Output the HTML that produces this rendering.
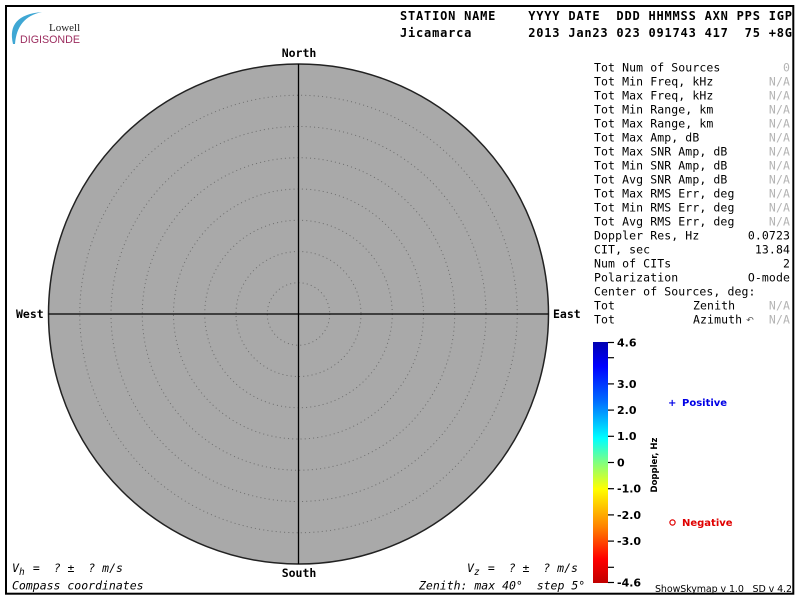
<!DOCTYPE html>
<html>
<head>
<meta charset="utf-8">
<style>
html,body{margin:0;padding:0;background:#fff;}
svg{display:block;}
svg text{white-space:pre;}
.mono{font-family:"DejaVu Sans Mono","Liberation Mono",monospace;}
.sans{font-family:"DejaVu Sans","Liberation Sans",sans-serif;}
</style>
</head>
<body>
<svg width="800" height="600" viewBox="0 0 800 600" xmlns="http://www.w3.org/2000/svg">
  <defs>
    <linearGradient id="cb" x1="0" y1="0" x2="0" y2="1">
      <stop offset="0" stop-color="#0000b0"/>
      <stop offset="0.10" stop-color="#0000ff"/>
      <stop offset="0.25" stop-color="#0070ff"/>
      <stop offset="0.40" stop-color="#00ffff"/>
      <stop offset="0.50" stop-color="#80ff80"/>
      <stop offset="0.61" stop-color="#ffff00"/>
      <stop offset="0.77" stop-color="#ff8000"/>
      <stop offset="0.90" stop-color="#ff0000"/>
      <stop offset="1" stop-color="#c00000"/>
    </linearGradient>
  </defs>
  <rect x="0" y="0" width="800" height="600" fill="#fff"/>
  <!-- frame -->
  <rect x="6" y="6" width="787.3" height="587.7" fill="none" stroke="#000" stroke-width="2"/>

  <!-- logo -->
  <path d="M13,44 Q6,15 42,12 Q17,17 15,44 Z" fill="#3fa7d4"/>
  <text x="49" y="31" font-family="Liberation Serif, serif" font-size="11" fill="#222">Lowell</text>
  <text x="20" y="43" font-family="Liberation Sans, sans-serif" font-size="11" fill="#9c2d5f" textLength="60" lengthAdjust="spacingAndGlyphs">DIGISONDE</text>

  <!-- header -->
  <g class="mono" font-weight="bold" font-size="12" fill="#000">
    <text x="400" y="20" textLength="392" lengthAdjust="spacing">STATION NAME    YYYY DATE  DDD HHMMSS AXN PPS IGP</text>
    <text x="400" y="37" textLength="392" lengthAdjust="spacing">Jicamarca       2013 Jan23 023 091743 417  75 +8G</text>
  </g>

  <!-- skymap circle -->
  <circle cx="298.5" cy="314" r="250" fill="#a9a9a9" stroke="#222" stroke-width="1.5"/>
  <g fill="none" stroke="#6e6e6e" stroke-width="1" stroke-dasharray="1 3.2">
    <circle cx="298.5" cy="314" r="31.25"/>
    <circle cx="298.5" cy="314" r="62.5"/>
    <circle cx="298.5" cy="314" r="93.75"/>
    <circle cx="298.5" cy="314" r="125"/>
    <circle cx="298.5" cy="314" r="156.25"/>
    <circle cx="298.5" cy="314" r="187.5"/>
    <circle cx="298.5" cy="314" r="218.75"/>
  </g>
  <line x1="298.5" y1="64" x2="298.5" y2="564" stroke="#000" stroke-width="1.3"/>
  <line x1="48.5" y1="314" x2="548.5" y2="314" stroke="#000" stroke-width="1.3"/>

  <g class="mono" font-weight="bold" font-size="11.5" fill="#000">
    <text x="299" y="57" text-anchor="middle">North</text>
    <text x="299" y="577" text-anchor="middle">South</text>
    <text x="16" y="318">West</text>
    <text x="553" y="318">East</text>
  </g>

  <!-- right panel -->
  <g class="mono" font-size="11.5" fill="#000" letter-spacing="0.1">
    <text x="594" y="71.5">Tot Num of Sources</text>
    <text x="594" y="85.5">Tot Min Freq, kHz</text>
    <text x="594" y="99.5">Tot Max Freq, kHz</text>
    <text x="594" y="113.5">Tot Min Range, km</text>
    <text x="594" y="127.5">Tot Max Range, km</text>
    <text x="594" y="141.5">Tot Max Amp, dB</text>
    <text x="594" y="155.5">Tot Max SNR Amp, dB</text>
    <text x="594" y="169.5">Tot Min SNR Amp, dB</text>
    <text x="594" y="183.5">Tot Avg SNR Amp, dB</text>
    <text x="594" y="197.5">Tot Max RMS Err, deg</text>
    <text x="594" y="211.5">Tot Min RMS Err, deg</text>
    <text x="594" y="225.5">Tot Avg RMS Err, deg</text>
    <text x="594" y="239.5">Doppler Res, Hz</text>
    <text x="594" y="253.5">CIT, sec</text>
    <text x="594" y="267.5">Num of CITs</text>
    <text x="594" y="281.5">Polarization</text>
    <text x="594" y="295.5">Center of Sources, deg:</text>
    <text x="594" y="309.5">Tot</text>
    <text x="594" y="323.5">Tot</text>
    <text x="693" y="309.5">Zenith</text>
    <text x="693" y="323.5">Azimuth</text>
    <text x="790" y="239.5" text-anchor="end">0.0723</text>
    <text x="790" y="253.5" text-anchor="end">13.84</text>
    <text x="790" y="267.5" text-anchor="end">2</text>
    <text x="790" y="281.5" text-anchor="end">O-mode</text>
  </g>
  <g class="mono" font-size="11.5" fill="#b4b4b4" letter-spacing="0.1" text-anchor="end">
    <text x="790" y="71.5">0</text>
    <text x="790" y="85.5">N/A</text>
    <text x="790" y="99.5">N/A</text>
    <text x="790" y="113.5">N/A</text>
    <text x="790" y="127.5">N/A</text>
    <text x="790" y="141.5">N/A</text>
    <text x="790" y="155.5">N/A</text>
    <text x="790" y="169.5">N/A</text>
    <text x="790" y="183.5">N/A</text>
    <text x="790" y="197.5">N/A</text>
    <text x="790" y="211.5">N/A</text>
    <text x="790" y="225.5">N/A</text>
    <text x="790" y="309.5">N/A</text>
    <text x="790" y="323.5">N/A</text>
  </g>
  <text x="750" y="323" class="sans" font-size="9" fill="#555" text-anchor="middle">↶</text>

  <!-- colorbar -->
  <rect x="593" y="342" width="15" height="241" fill="url(#cb)"/>
  <g stroke="#000" stroke-width="1.2">
    <line x1="608" y1="342.5" x2="614" y2="342.5"/>
    <line x1="608" y1="357.7" x2="614" y2="357.7"/>
    <line x1="608" y1="383.9" x2="614" y2="383.9"/>
    <line x1="608" y1="410.1" x2="614" y2="410.1"/>
    <line x1="608" y1="436.3" x2="614" y2="436.3"/>
    <line x1="608" y1="462.5" x2="614" y2="462.5"/>
    <line x1="608" y1="488.7" x2="614" y2="488.7"/>
    <line x1="608" y1="514.9" x2="614" y2="514.9"/>
    <line x1="608" y1="541.1" x2="614" y2="541.1"/>
    <line x1="608" y1="567.3" x2="614" y2="567.3"/>
    <line x1="608" y1="582.5" x2="614" y2="582.5"/>
  </g>
  <g class="sans" font-weight="bold" font-size="11" fill="#000">
    <text x="617" y="346.5">4.6</text>
    <text x="617" y="388">3.0</text>
    <text x="617" y="414">2.0</text>
    <text x="617" y="440">1.0</text>
    <text x="617" y="466.5">0</text>
    <text x="617" y="492.5">-1.0</text>
    <text x="617" y="519">-2.0</text>
    <text x="617" y="545">-3.0</text>
    <text x="617" y="586.5">-4.6</text>
  </g>
  <text class="sans" font-weight="bold" font-size="8.5" fill="#000" text-anchor="middle" transform="translate(657,465) rotate(-90)">Doppler, Hz</text>

  <!-- legend -->
  <g class="sans" font-weight="bold" font-size="10">
    <text x="668" y="406" fill="#0000e6">+</text>
    <text x="682" y="406" fill="#0000e6">Positive</text>
    <circle cx="672.5" cy="522.5" r="2.6" fill="none" stroke="#e00000" stroke-width="1.2"/>
    <text x="682" y="526" fill="#e00000">Negative</text>
  </g>
  <text x="655" y="592" class="sans" font-size="9.5" fill="#000" textLength="137" lengthAdjust="spacing">ShowSkymap v 1.0   SD v 4.2</text>

  <!-- bottom text -->
  <g class="mono" font-style="italic" font-size="11.5" fill="#000">
    <text x="12" y="572">V</text>
    <text x="19" y="575" font-size="9.5">h</text>
    <text x="26" y="572"> =  ? ±  ? m/s</text>
    <text x="12" y="589.5">Compass coordinates</text>
    <text x="467" y="572">V</text>
    <text x="474" y="575" font-size="9.5">z</text>
    <text x="481" y="572"> =  ? ±  ? m/s</text>
    <text x="419" y="589.5">Zenith: max 40°  step 5°</text>
  </g>
</svg>
</body>
</html>
